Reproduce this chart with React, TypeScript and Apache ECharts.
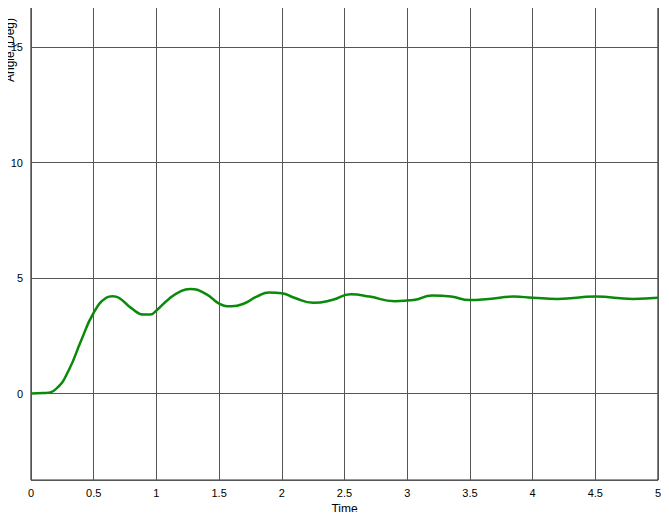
import { useEffect, useRef } from "react";
import * as echarts from "echarts";

const times = [0, 0.1, 0.2, 0.3, 0.4, 0.5, 0.6, 0.65, 0.7, 0.8, 0.9, 0.95, 1.0, 1.1, 1.2, 1.27, 1.4, 1.5, 1.6, 1.7, 1.8, 1.9, 2.0, 2.1, 2.25, 2.4, 2.55, 2.7, 2.9, 3.05, 3.2, 3.35, 3.5, 3.65, 3.85, 4.0, 4.2, 4.5, 4.8, 5.0];
const angles = [0, 0.02, 0.2, 1.0, 2.3, 3.5, 4.15, 4.22, 4.15, 3.7, 3.42, 3.42, 3.6, 4.1, 4.45, 4.53, 4.3, 3.9, 3.78, 3.9, 4.2, 4.38, 4.35, 4.15, 3.93, 4.05, 4.3, 4.2, 4.0, 4.05, 4.25, 4.2, 4.05, 4.1, 4.2, 4.15, 4.1, 4.2, 4.1, 4.15];
const yTicks = [0, 5, 10, 15];

export default function App() {
  const ref = useRef<HTMLDivElement>(null);

  useEffect(() => {
    if (!ref.current) return;
    const chart = echarts.init(ref.current, undefined, { renderer: "svg" });
    const font = "Liberation Sans, Arial, sans-serif";
    chart.setOption({
      animation: false,
      backgroundColor: "#fff",
      grid: { left: 31, right: 11, top: 0, bottom: 33, show: true, borderColor: "#000", borderWidth: 1 },
      graphic: [
        {
          type: "text",
          x: 10,
          y: 82,
          rotation: Math.PI / 2,
          style: { text: "Angle (Deg)", fontSize: 12, fontFamily: font, fill: "#000", align: "left", verticalAlign: "middle" },
        },
      ],
      xAxis: {
        type: "value",
        min: 0,
        max: 5,
        interval: 0.5,
        name: "Time",
        nameLocation: "middle",
        nameGap: 20,
        nameTextStyle: { color: "#000", fontSize: 12, fontFamily: font },
        axisLine: { show: false },
        axisTick: { show: false },
        axisLabel: { color: "#000", fontSize: 11, fontFamily: font, margin: 7, formatter: (v: number) => String(v) },
        splitLine: { lineStyle: { color: "#555", width: 1 } },
      },
      yAxis: {
        type: "value",
        min: -3.75,
        max: 17.05,
        axisLine: { show: false },
        axisTick: { show: false },
        axisLabel: {
          color: "#000",
          fontSize: 11,
          fontFamily: font,
          margin: 8,
          formatter: (v: number) => (yTicks.includes(v) ? String(v) : ""),
          customValues: yTicks,
        },
        splitLine: { lineStyle: { color: "#555", width: 1 } },
      },
      series: [
        {
          type: "line",
          data: times.map((t, i) => [t, angles[i]]),
          smooth: 0.5,
          symbol: "none",
          lineStyle: { color: "#0a8a0a", width: 2.5 },
        },
      ],
    });
    return () => chart.dispose();
  }, []);

  return <div ref={ref} style={{ width: 669, height: 520, margin: -8 }} />;
}
